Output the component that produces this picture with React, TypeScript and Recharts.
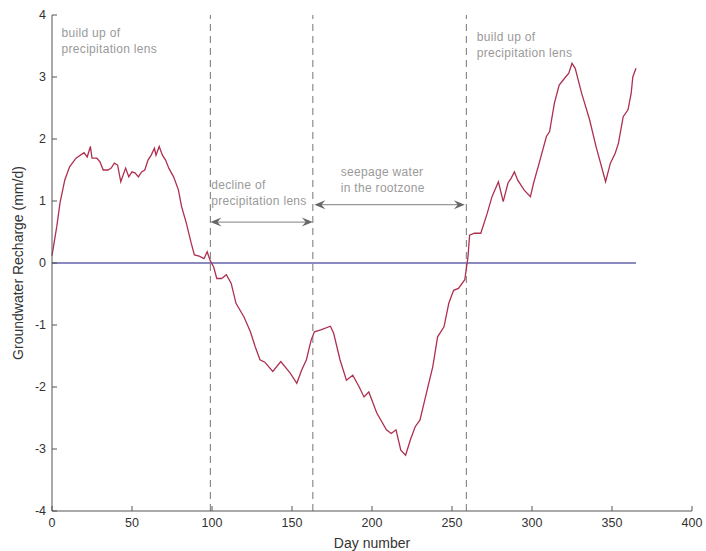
import React from 'react';
import { LineChart, Line, XAxis, YAxis, ReferenceLine, ReferenceDot } from 'recharts';

// day number and groundwater recharge (mm/d)
const days = [
  0, 3, 5, 8, 11, 15, 20, 22, 24, 25, 28, 30, 32, 35, 37, 39, 41, 43, 46, 48,
  50, 52, 54, 56, 58, 60, 62, 64, 65, 67, 69, 71, 73, 76, 79, 81, 84, 87, 89, 92,
  95, 97, 99, 101, 103, 106, 109, 112, 115, 120, 124, 127, 130, 133, 138, 143, 149, 153, 156, 159,
  162, 164, 168, 174, 176, 180, 184, 188, 192, 195, 198, 203, 209, 212, 215, 218, 221, 224, 227, 230,
  234, 238, 241, 245, 248, 251, 254, 258, 260, 261, 264, 268, 272, 275, 279, 282, 285, 287, 289, 291,
  295, 299, 301, 305, 309, 311, 314, 317, 321, 323, 325, 327, 331, 336, 340, 346, 349, 352, 354, 357,
  360, 362, 363, 365,
];
const recharge = [
  0.12, 0.59, 0.97, 1.34, 1.55, 1.69, 1.78, 1.71, 1.88, 1.69, 1.69, 1.63, 1.5, 1.5, 1.53, 1.61, 1.58, 1.31, 1.53, 1.39,
  1.47, 1.45, 1.39, 1.47, 1.5, 1.66, 1.74, 1.85, 1.74, 1.88, 1.74, 1.66, 1.53, 1.39, 1.18, 0.91, 0.64, 0.32, 0.13, 0.11,
  0.07, 0.18, 0.03, -0.06, -0.25, -0.25, -0.19, -0.33, -0.65, -0.87, -1.11, -1.35, -1.56, -1.6, -1.75, -1.59, -1.78, -1.94, -1.73, -1.56,
  -1.24, -1.11, -1.08, -1.02, -1.13, -1.56, -1.89, -1.81, -2.0, -2.16, -2.08, -2.42, -2.69, -2.75, -2.69, -3.02, -3.1, -2.85, -2.64, -2.53,
  -2.1, -1.67, -1.19, -1.03, -0.65, -0.44, -0.41, -0.27, 0.1, 0.45, 0.48, 0.48, 0.8, 1.07, 1.31, 0.99, 1.29, 1.37, 1.47, 1.34,
  1.18, 1.07, 1.29, 1.66, 2.04, 2.12, 2.58, 2.87, 3.0, 3.06, 3.22, 3.14, 2.74, 2.31, 1.88, 1.31, 1.61, 1.77, 1.93, 2.36,
  2.47, 2.74, 3.0, 3.14,
];

const xTicks = [0, 50, 100, 150, 200, 250, 300, 350, 400];
const yTicks = [-4, -3, -2, -1, 0, 1, 2, 3, 4];
const phaseBounds = [99, 163, 259];
const zeroSpan = [0, 365];

const notes = [
  { day: 6, value: 3.65, lines: ['build up of', 'precipitation lens'] },
  { day: 99.5, value: 1.19, lines: ['decline of', 'precipitation lens'] },
  { day: 180.5, value: 1.4, lines: ['seepage water', 'in the rootzone'] },
  { day: 265.5, value: 3.58, lines: ['build up of', 'precipitation lens'] },
];
const arrows = [
  { from: 99, to: 163, value: 0.66 },
  { from: 164, to: 258, value: 0.94 },
];

const chartData = days.map((d, i) => ({ day: d, recharge: recharge[i] }));

const FONT = '"Liberation Sans", Arial, sans-serif';

const noteLabel = (lines: string[]) => (props: any) => {
  const { x, y } = props.viewBox;
  return (
    <text x={x} y={y} fill="#9a9a9a" fontSize={12} letterSpacing={0.3} fontFamily={FONT}>
      {lines.map((l, i) => (
        <tspan key={i} x={x} dy={i === 0 ? 0 : 16}>{l}</tspan>
      ))}
    </text>
  );
};

const DoubleArrow = (p: any) => {
  const { x1, y1, x2, y2 } = p;
  return (
    <g>
      <line x1={x1 + 4} y1={y1} x2={x2 - 4} y2={y2} stroke="#999" strokeWidth={1.3} />
      <polygon points={`${x1},${y1} ${x1 + 11},${y1 - 4.5} ${x1 + 7},${y1} ${x1 + 11},${y1 + 4.5}`} fill="#666" />
      <polygon points={`${x2},${y2} ${x2 - 11},${y2 - 4.5} ${x2 - 7},${y2} ${x2 - 11},${y2 + 4.5}`} fill="#666" />
    </g>
  );
};

const App: React.FC = () => {
  const tickStyle = { fontSize: 12.5, fill: '#333', fontFamily: FONT };
  return (
    <div style={{ position: 'absolute', left: 0, top: 0, width: 706, height: 551, background: '#fff' }}>
      <LineChart width={706} height={551} data={chartData} margin={{ top: 15, right: 14, bottom: 0, left: 5 }}>
        <XAxis
          dataKey="day"
          type="number"
          domain={[0, 400]}
          ticks={xTicks}
          height={40}
          stroke="#555"
          tickSize={-5}
          tickMargin={12}
          tick={tickStyle}
          label={{ value: 'Day number', position: 'insideBottom', offset: 3, fill: '#333', fontSize: 14, fontFamily: FONT }}
        />
        <XAxis xAxisId="top" orientation="top" type="number" domain={[0, 400]} ticks={xTicks} height={0} stroke="#555" tickSize={-5} tick={false} />
        <YAxis
          type="number"
          domain={[-4, 4]}
          ticks={yTicks}
          width={47}
          stroke="#555"
          tickSize={-5}
          tickMargin={11}
          tick={tickStyle}
          label={{ value: 'Groundwater Recharge (mm/d)', angle: -90, position: 'insideLeft', offset: 13, fill: '#333', fontSize: 14, fontFamily: FONT, style: { textAnchor: 'middle' } }}
        />
        <YAxis yAxisId="right" orientation="right" type="number" domain={[-4, 4]} ticks={yTicks} width={0} stroke="#555" tickSize={-5} tick={false} />

        {phaseBounds.map(d => (
          <ReferenceLine key={d} x={d} stroke="#8c8c8c" strokeWidth={1.2} strokeDasharray="7 5" />
        ))}
        <ReferenceLine
          segment={[{ x: zeroSpan[0], y: 0 }, { x: zeroSpan[1], y: 0 }]}
          stroke="#8a8ac0"
          strokeWidth={2}
        />
        {arrows.map((a, i) => (
          <ReferenceLine key={i} segment={[{ x: a.from, y: a.value }, { x: a.to, y: a.value }]} shape={DoubleArrow} />
        ))}
        {notes.map((n, i) => (
          <ReferenceDot key={i} x={n.day} y={n.value} r={0} fill="none" stroke="none" label={{ content: noteLabel(n.lines) }} />
        ))}

        <Line
          type="linear"
          dataKey="recharge"
          stroke="#ad3050"
          strokeWidth={1.3}
          dot={false}
          isAnimationActive={false}
        />
      </LineChart>
    </div>
  );
};

export default App;
